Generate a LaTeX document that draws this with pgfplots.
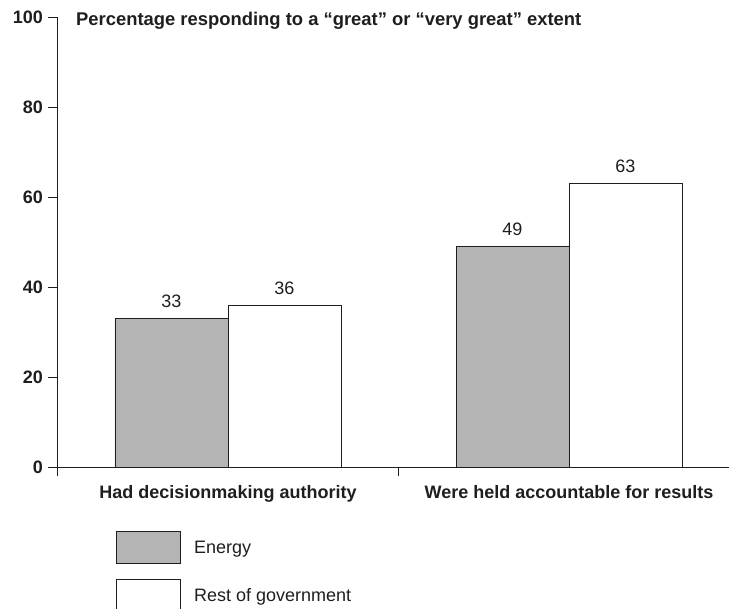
\documentclass[border=0pt]{standalone}
\usepackage{pgfplots}
\pgfplotsset{compat=1.18}
\usepackage{fontspec}
\setmainfont{Liberation Sans}
\definecolor{barGray}{RGB}{180,180,180}
\definecolor{ink}{RGB}{30,30,30}

\begin{document}
\begin{tikzpicture}[x=1pt,y=1pt]
\useasboundingbox (0,0) rectangle (729,609);
\begin{axis}[
  at={(57.5pt,141.5pt)}, anchor=south west,
  scale only axis, width=682pt, height=450.5pt,
  xmin=-0.5, xmax=1.5, ymin=0, ymax=100,
  axis lines*=left,
  axis line style={line width=0.9pt, draw=ink},
  tick style={line width=0.9pt, draw=ink},
  tick align=outside,
  major tick length=9pt,
  ytick={0,20,40,60,80,100},
  /pgf/number format/assume math mode=true,
  yticklabel style={font=\bfseries\fontsize{18}{18}\selectfont, text=ink, xshift=-2pt},
  xtick={-0.5,0.5,1.5},
  xticklabels={},
  extra x ticks={0,1},
  extra x tick labels={Had decisionmaking authority, Were held accountable for results},
  extra x tick style={major tick length=0pt, xticklabel style={font=\bfseries\fontsize{18}{18}\selectfont, text=ink, yshift=-14pt}},
  clip=false,
  legend style={at={(0.08578,-0.141)}, anchor=north west, draw=none, fill=none, inner sep=0pt,
    nodes={inner sep=0pt, font=\fontsize{18}{18}\selectfont, text=ink},
    cells={anchor=west}, row sep=15pt,
    /tikz/every odd column/.append style={column sep=13pt}},
]
\addplot[ybar, bar width=113pt, bar shift=-56.5pt, fill=barGray, draw=ink, line width=0.9pt,
  nodes near coords,
  nodes near coords style={font=\fontsize{18}{18}\selectfont, text=ink, xshift=-56.5pt, yshift=7pt},
  legend image code/.code={\draw[fill=barGray, draw=ink, line width=0.9pt] (0pt,-16pt) rectangle (64pt,16pt);}]
  coordinates {(0,33) (1,49)};
\addlegendentry{Energy}
\addplot[ybar, bar width=113pt, bar shift=56.5pt, fill=white, draw=ink, line width=0.9pt,
  nodes near coords,
  nodes near coords style={font=\fontsize{18}{18}\selectfont, text=ink, xshift=56.5pt, yshift=7pt},
  legend image code/.code={\draw[fill=white, draw=ink, line width=0.9pt] (0pt,-16pt) rectangle (64pt,16pt);}]
  coordinates {(0,36) (1,63)};
\addlegendentry{Rest of government}
\end{axis}
\node[anchor=base west, font=\bfseries\fontsize{18.4}{18.4}\selectfont, text=ink, inner sep=0pt] at (76,583) {Percentage responding to a “great” or “very great” extent};
\end{tikzpicture}
\end{document}
